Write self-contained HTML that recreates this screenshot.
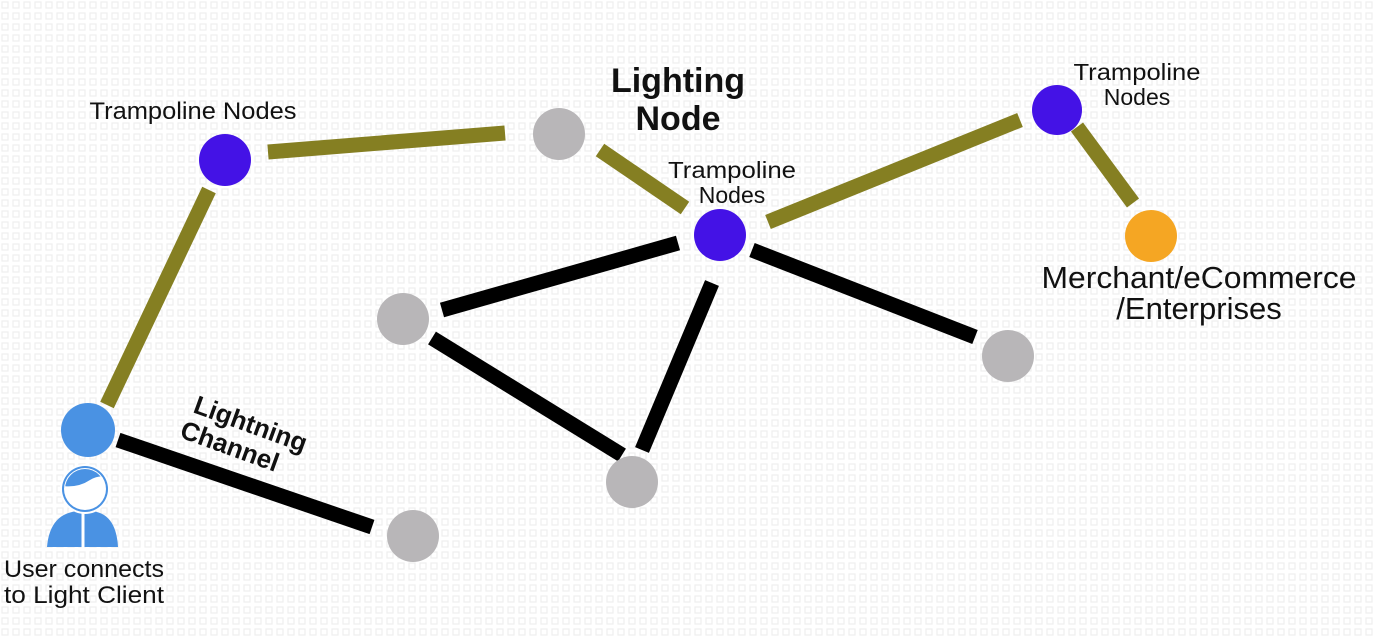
<!DOCTYPE html>
<html><head><meta charset="utf-8"><style>
html,body{margin:0;padding:0;background:#fff}
svg{display:block}
text{font-family:"Liberation Sans",sans-serif;fill:#111}
</style></head><body>
<svg width="1375" height="637" viewBox="0 0 1375 637" xmlns="http://www.w3.org/2000/svg">
<defs>
<pattern id="p" width="11" height="11" patternUnits="userSpaceOnUse">
<rect x="2" y="2" width="6" height="6" fill="none" stroke="#eeeeee" stroke-width="1.2"/>
</pattern>
<clipPath id="hc"><circle cx="85" cy="489" r="20"/></clipPath>
</defs>
<rect width="1375" height="637" fill="#fff"/>
<rect width="1375" height="637" fill="url(#p)"/>
<g stroke="#857f22" stroke-width="15">
<line x1="209" y1="190" x2="107" y2="405"/>
<line x1="268" y1="152" x2="505" y2="133"/>
<line x1="600" y1="150" x2="685" y2="208"/>
<line x1="768" y1="222" x2="1020" y2="120"/>
<line x1="1077" y1="127" x2="1133" y2="203"/>
</g>
<g stroke="#000" stroke-width="15">
<line x1="118" y1="440" x2="372" y2="527"/>
<line x1="442" y1="310" x2="678" y2="243"/>
<line x1="432" y1="338" x2="622" y2="455"/>
<line x1="712" y1="283" x2="642" y2="450"/>
<line x1="752" y1="250" x2="975" y2="337"/>
</g>
<circle cx="88" cy="430" r="27" fill="#4a92e3"/>
<circle cx="225" cy="160" r="26" fill="#4412e6"/>
<circle cx="720" cy="235" r="26" fill="#4412e6"/>
<circle cx="1057" cy="110" r="25" fill="#4412e6"/>
<circle cx="1151" cy="236" r="26" fill="#f5a623"/>
<g fill="#b8b6b8">
<circle cx="559" cy="134" r="26"/>
<circle cx="403" cy="319" r="26"/>
<circle cx="632" cy="482" r="26"/>
<circle cx="1008" cy="356" r="26"/>
<circle cx="413" cy="536" r="26"/>
</g>
<!-- user icon -->
<path d="M47 547 Q50 512 80 511 L90 511 Q116 512 118 547 Z" fill="#4a92e3"/>
<line x1="83" y1="510" x2="83" y2="548" stroke="#fff" stroke-width="3"/>
<circle cx="85" cy="489" r="25" fill="#fff"/>
<circle cx="85" cy="489" r="23" fill="#4a92e3"/>
<circle cx="85" cy="489" r="21" fill="#fff"/>
<path clip-path="url(#hc)" d="M60 465 L110 465 L110 478 Q100 474 90 480 Q78 488 62 486 Z" fill="#4a92e3"/>
<text x="193" y="119" font-size="24" text-anchor="middle" textLength="207" lengthAdjust="spacingAndGlyphs">Trampoline Nodes</text>
<text x="678" y="92" font-size="34" font-weight="bold" text-anchor="middle">Lighting</text>
<text x="678" y="130" font-size="34" font-weight="bold" text-anchor="middle">Node</text>
<text x="732" y="178" font-size="23" text-anchor="middle" textLength="128" lengthAdjust="spacingAndGlyphs">Trampoline</text>
<text x="732" y="203" font-size="23" text-anchor="middle">Nodes</text>
<text x="1137" y="80" font-size="23" text-anchor="middle" textLength="127" lengthAdjust="spacingAndGlyphs">Trampoline</text>
<text x="1137" y="105" font-size="23" text-anchor="middle">Nodes</text>
<text x="1199" y="288" font-size="31" text-anchor="middle" textLength="315" lengthAdjust="spacingAndGlyphs">Merchant/eCommerce</text>
<text x="1199" y="319" font-size="31" text-anchor="middle">/Enterprises</text>
<text x="84" y="577" font-size="24" text-anchor="middle" textLength="160" lengthAdjust="spacingAndGlyphs">User connects</text>
<text x="84" y="603" font-size="24" text-anchor="middle" textLength="160" lengthAdjust="spacingAndGlyphs">to Light Client</text>
<g transform="translate(192,412) rotate(20)">
<text x="0" y="0" font-size="26" font-weight="bold">Lightning</text>
<text x="-4" y="28" font-size="26" font-weight="bold">Channel</text>
</g>
</svg>
</body></html>
